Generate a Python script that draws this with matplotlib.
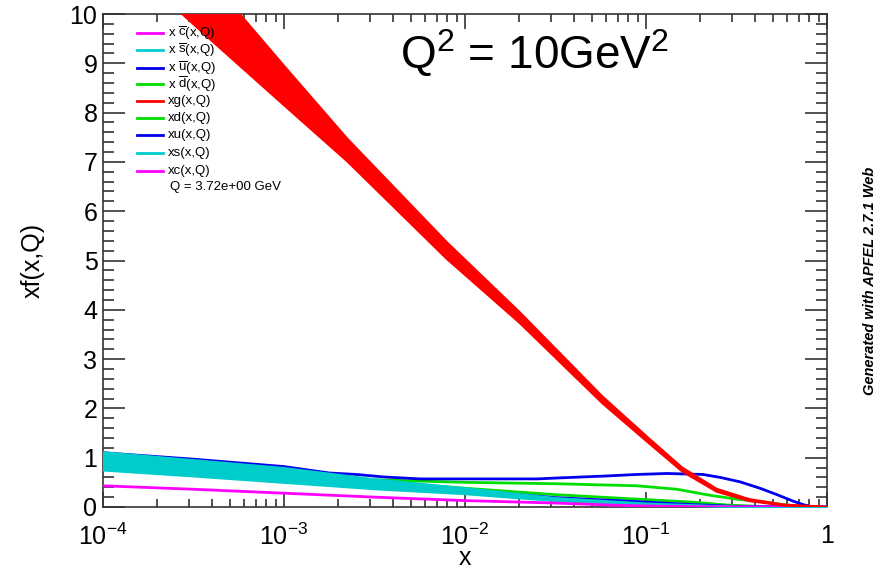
import matplotlib
matplotlib.use("Agg")
import matplotlib.pyplot as plt
import numpy as np
from matplotlib.ticker import MultipleLocator, LogLocator, FixedLocator, FixedFormatter, NullFormatter

plt.rcParams['font.family'] = ['Liberation Sans', 'DejaVu Sans']
plt.rcParams['mathtext.fontset'] = 'custom'
plt.rcParams['mathtext.rm'] = 'Liberation Sans'
plt.rcParams['mathtext.it'] = 'Liberation Sans:italic'
plt.rcParams['mathtext.bf'] = 'Liberation Sans:bold'

# ---- data (log10 x grids and values) ----
g_logx = [-4.0, -3.4, -3.0, -2.65, -2.1, -1.7, -1.24, -0.98, -0.8, -0.61, -0.43, -0.24, 0.0]
g_low  = [11.45, 9.46, 8.15, 7.01, 5.03, 3.74, 2.10, 1.28, 0.72, 0.31, 0.12, 0.03, 0.0]
g_up   = [13.0, 10.67, 8.95, 7.47, 5.37, 3.96, 2.24, 1.38, 0.80, 0.37, 0.16, 0.05, 0.0]

s_logx = [-4.0, -3.5, -3.0, -2.5, -2.0, -1.5, -1.0, -0.5, 0.0]
s_low  = [0.75, 0.63, 0.50, 0.37, 0.27, 0.13, 0.05, 0.01, 0.0]
s_up   = [1.12, 0.96, 0.80, 0.57, 0.39, 0.19, 0.08, 0.015, 0.0]

u_logx = [-4.0, -3.5, -3.0, -2.75, -2.6, -2.45, -2.25, -1.6, -1.48, -1.215, -1.05, -0.884,
          -0.685, -0.59, -0.48, -0.37, -0.276, -0.188, -0.133, -0.08, 0.0]
u_val  = [1.10, 0.97, 0.82, 0.69, 0.66, 0.61, 0.57, 0.57, 0.59, 0.63, 0.66, 0.68,
          0.66, 0.60, 0.51, 0.38, 0.25, 0.12, 0.05, 0.0, 0.0]

d_logx = [-4.0, -3.5, -3.0, -2.75, -2.56, -2.3, -2.0, -1.475, -1.05, -0.83, -0.65, -0.5,
          -0.37, -0.22, -0.1, 0.0]
d_val  = [1.06, 0.93, 0.79, 0.64, 0.56, 0.53, 0.50, 0.47, 0.43, 0.36, 0.24, 0.16,
          0.11, 0.04, 0.0, 0.0]

db_logx = [-4.0, -3.5, -3.0, -2.5, -2.0, -1.5, -1.0, -0.75, -0.55, -0.3, 0.0]
db_val  = [1.05, 0.90, 0.74, 0.52, 0.38, 0.25, 0.15, 0.10, 0.04, 0.0, 0.0]

ub_logx = [-4.0, -3.5, -3.0, -2.5, -2.0, -1.5, -1.0, -0.75, -0.5, 0.0]
ub_val  = [1.04, 0.89, 0.72, 0.49, 0.34, 0.19, 0.10, 0.05, 0.01, 0.0]

c_logx = [-4.0, -3.5, -3.0, -2.5, -2.0, -1.5, -1.2, -1.0, -0.7, 0.0]
c_val  = [0.43, 0.36, 0.28, 0.20, 0.13, 0.08, 0.04, 0.02, 0.005, 0.0]

legend_labels = [r'x $\overline{\mathrm{c}}$(x,Q)', r'x $\overline{\mathrm{s}}$(x,Q)',
                 r'x $\overline{\mathrm{u}}$(x,Q)', r'x $\overline{\mathrm{d}}$(x,Q)',
                 'xg(x,Q)', 'xd(x,Q)', 'xu(x,Q)', 'xs(x,Q)', 'xc(x,Q)']
legend_colors = ['#FF00FF', '#00CCCC', '#0000EE', '#00DD00', '#FF0000',
                 '#00DD00', '#0000EE', '#00CCCC', '#FF00FF']

RED, CYAN, BLUE, GREEN, MAG = '#FF0000', '#00CCCC', '#0000EE', '#00DD00', '#FF00FF'

def X(l):
    return 10 ** np.asarray(l, dtype=float)

W, H = 895, 571
fig = plt.figure(figsize=(W / 100, H / 100), dpi=100)
L, R, T, B = 103, 827, 14, 507
ax = fig.add_axes([L / W, 1 - B / H, (R - L) / W, (B - T) / H])

lw = 2.0
ax.plot(X(d_logx), d_val, color=GREEN, lw=lw, zorder=2)
ax.plot(X(u_logx), u_val, color=BLUE, lw=lw, zorder=2.1)
ax.plot(X(db_logx), db_val, color=GREEN, lw=lw, zorder=2.2)
ax.plot(X(ub_logx), ub_val, color=BLUE, lw=lw, zorder=2.3)
ax.fill_between(X(s_logx), s_low, s_up, color=CYAN, lw=1.5, edgecolor=CYAN, zorder=3)
ax.plot(X(c_logx), c_val, color=MAG, lw=lw, zorder=3.5)
ax.fill_between(X(g_logx), g_low, g_up, color=RED, lw=1.5, edgecolor=RED, zorder=4)

ax.set_xscale('log')
ax.set_xlim(1e-4, 1)
ax.set_ylim(0, 10)

ax.xaxis.set_major_locator(FixedLocator([1e-4, 1e-3, 1e-2, 1e-1, 1]))
ax.xaxis.set_major_formatter(FixedFormatter([r'$10^{-4}$', r'$10^{-3}$', r'$10^{-2}$', r'$10^{-1}$', '1']))
ax.xaxis.set_minor_locator(LogLocator(base=10, subs=np.arange(2, 10), numticks=20))
ax.xaxis.set_minor_formatter(NullFormatter())
ax.yaxis.set_major_locator(MultipleLocator(1))
ax.yaxis.set_minor_locator(MultipleLocator(0.2))

ax.tick_params(axis='both', which='both', direction='in', top=True, right=True, width=1.2, color='#333333')
ax.tick_params(axis='y', which='major', length=16, labelsize=18, pad=4)
ax.tick_params(axis='y', which='minor', length=8)
ax.tick_params(axis='x', which='major', length=11, labelsize=18, pad=12)
ax.tick_params(axis='x', which='minor', length=6)
for sp in ax.spines.values():
    sp.set_linewidth(1.2)
    sp.set_color('#333333')

ax.set_ylabel('xf(x,Q)', fontsize=18, labelpad=18)
ax.set_xlabel('x', fontsize=18, labelpad=-3)

# legend (manual, no frame), drawn above the curves
row_y = [33, 50, 68, 84, 101, 118, 135, 153, 171]
x0, x1, xt = (137 - L) / (R - L), (163 - L) / (R - L), (168 - L) / (R - L)
for lab, col, yp in zip(legend_labels, legend_colors, row_y):
    yy = (B - yp) / (B - T)
    ax.plot([x0, x1], [yy, yy], color=col, lw=2, transform=ax.transAxes, clip_on=False, zorder=6)
    ax.text(xt, yy, lab, transform=ax.transAxes, fontsize=9.5, va='center', ha='left', zorder=6)
ax.text((170 - L) / (R - L), (B - 187) / (B - T), 'Q = 3.72e+00 GeV',
        transform=ax.transAxes, fontsize=9.5, va='center', ha='left', zorder=6)

ax.text((400 - L) / (R - L), (B - 68) / (B - T), r'Q$^{2}$ = 10GeV$^{2}$',
        transform=ax.transAxes, fontsize=33, va='baseline', ha='left', zorder=6)

fig.text(870 / W, 1 - 281 / H, 'Generated with APFEL 2.7.1 Web', rotation=90,
         fontsize=10.5, fontweight='bold', fontstyle='italic', ha='center', va='center')

fig.savefig('out.png', dpi=100)
